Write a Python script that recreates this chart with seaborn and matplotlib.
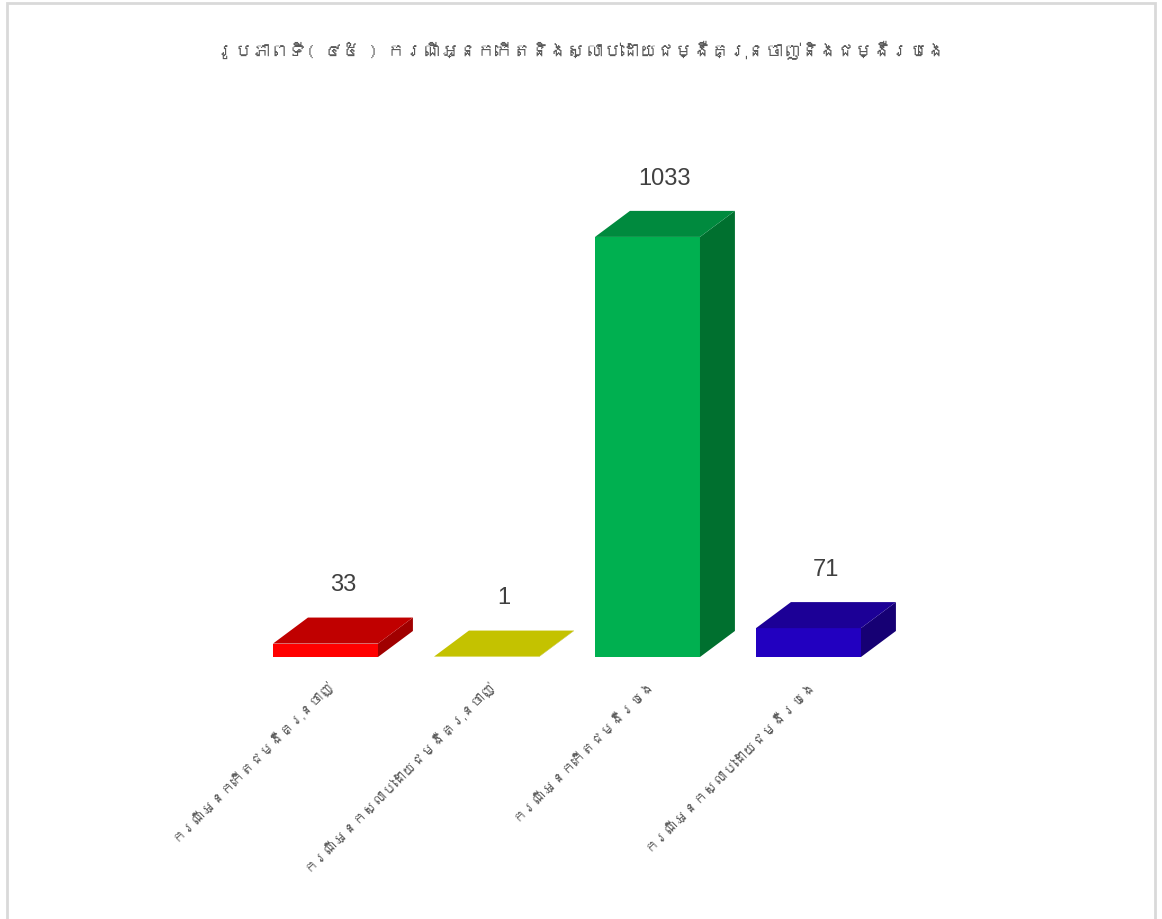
import matplotlib
matplotlib.use("Agg")
import matplotlib.pyplot as plt
from matplotlib import font_manager
from matplotlib.patches import Polygon, Rectangle
import seaborn as sns
import pandas as pd

# Data
categories = [
    "ករណីអ្នកកើតជម្ងឺគ្រុនចាញ់",
    "ករណីអ្នកស្លាប់ដោយជម្ងឺគ្រុនចាញ់",
    "ករណីអ្នកកើតជម្ងឺរបេង",
    "ករណីអ្នកស្លាប់ដោយជម្ងឺរបេង",
]
values = [33, 1, 1033, 71]
title_text = "រូបភាពទី( ៤៥ ) ករណីអ្នកកើតនិងស្លាប់ដោយជម្ងឺគ្រុនចាញ់និងជម្ងឺរបេង"

# Face colours per bar: front, top, side
front_colors = ["#FF0000", "#C8C400", "#00B050", "#2200C0"]
top_colors = ["#C00000", "#C4C200", "#008A3E", "#1C0096"]
side_colors = ["#A00000", "#A8A600", "#00702F", "#160074"]


def find_khmer_font():
    try:
        from fontTools.ttLib import TTFont
    except Exception:
        return None
    for fe in font_manager.fontManager.ttflist:
        try:
            tt = TTFont(fe.fname, fontNumber=0, lazy=True)
            cmap = tt.getBestCmap()
            if cmap and 0x1780 in cmap and 0x17D2 in cmap:
                return fe.name
        except Exception:
            continue
    return None


sns.set_theme(style="white")
khmer = find_khmer_font()
families = ([khmer] if khmer else []) + ["DejaVu Sans"]
plt.rcParams["font.family"] = families

W, H = 1162, 920
fig = plt.figure(figsize=(W / 100, H / 100), dpi=100)
fig.patch.set_facecolor("white")

# Light frame around the chart area
fig.add_artist(Rectangle((7 / W, -0.01), (1155 - 7) / W, (H - 4) / H + 0.01,
                         transform=fig.transFigure, fill=False,
                         edgecolor="#D9D9D9", linewidth=2))

ax = fig.add_axes([245 / W, 262 / H, 644 / W, 488 / H])
df = pd.DataFrame({"cat": categories, "val": values})
sns.barplot(data=df, x="cat", y="val", hue="cat", palette=front_colors,
            width=0.652, legend=False, ax=ax, saturation=1, linewidth=0)
ax.set_ylim(0, 1200)
ax.set_xlim(-0.5, 3.5)
for s in ax.spines.values():
    s.set_visible(False)
ax.set_yticks([])
ax.set_xlabel("")
ax.set_ylabel("")

# Depth of the 3D extrusion in data units
dx, dy = 0.217, 64.0

for i, p in enumerate(ax.patches):
    x0 = p.get_x()
    w = p.get_width()
    h = p.get_height()
    x1 = x0 + w
    top = Polygon([(x0, h), (x1, h), (x1 + dx, h + dy), (x0 + dx, h + dy)],
                  closed=True, facecolor=top_colors[i], edgecolor="none",
                  clip_on=False, zorder=3)
    side = Polygon([(x1, 0), (x1 + dx, dy), (x1 + dx, h + dy), (x1, h)],
                   closed=True, facecolor=side_colors[i], edgecolor="none",
                   clip_on=False, zorder=3)
    ax.add_patch(side)
    ax.add_patch(top)
    ax.annotate(f"{values[i]}", xy=(x0 + w / 2 + dx / 2, h + dy),
                xytext=(0, 24), textcoords="offset points",
                ha="center", va="center", fontsize=17, color="#404040",
                family=["Liberation Sans", "DejaVu Sans"],
                annotation_clip=False)

ax.set_xticks(range(len(categories)))
ax.set_xticklabels(categories, rotation=45, ha="right", rotation_mode="anchor",
                   fontsize=10, color="#595959")
ax.tick_params(axis="x", length=0, pad=14)

fig.text(0.5, 1 - 50 / H, title_text, ha="center", va="center",
         fontsize=13, color="#595959", fontweight="bold")

fig.savefig("out.png", dpi=100, facecolor="white")
